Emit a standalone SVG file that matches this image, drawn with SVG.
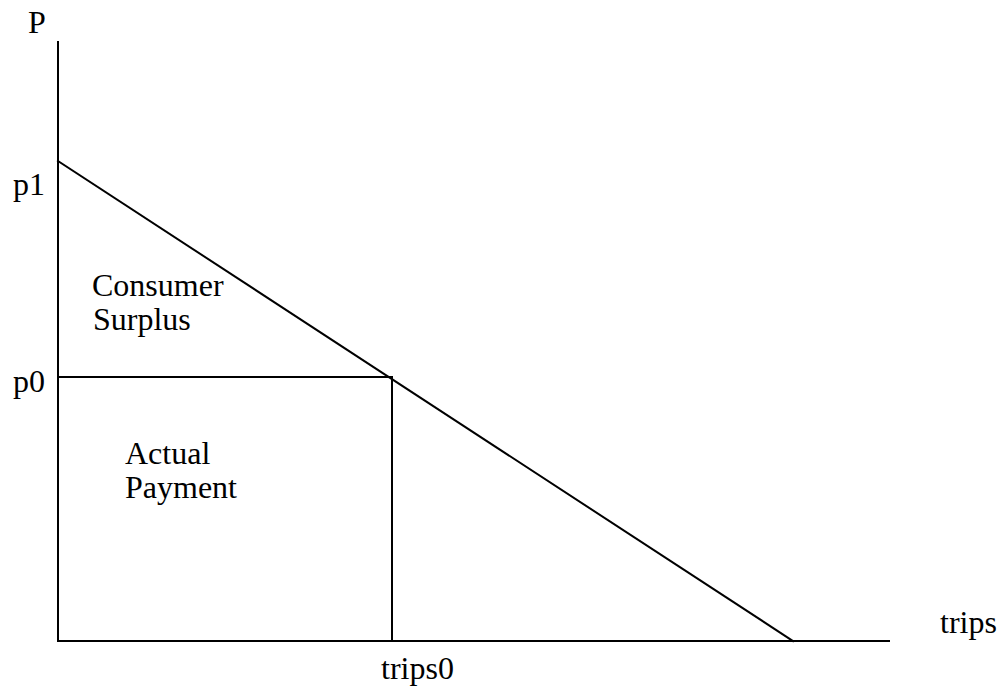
<svg xmlns="http://www.w3.org/2000/svg" width="1001" height="690" viewBox="0 0 1001 690">
<style>
.ln{stroke:#000;stroke-width:2;fill:none;stroke-linecap:square}
.t{font-family:"Liberation Serif","Times New Roman",serif;font-size:32px;fill:#000}
</style>
<rect width="1001" height="690" fill="#fff"/>
<g id="axes">
<line class="ln" x1="58" y1="42" x2="58" y2="641"/>
<line class="ln" x1="58" y1="641" x2="889" y2="641"/>
</g>
<g id="connectors">
<line class="ln" x1="58" y1="161" x2="793" y2="641"/>
<polyline class="ln" points="58,377 392,377 392,641"/>
</g>
<g id="labels">
<text class="t" x="28" y="33">P</text>
<text class="t" x="13" y="195">p1</text>
<text class="t" x="13" y="392">p0</text>
<text class="t" x="940" y="633">trips</text>
<text class="t" x="381" y="679">trips0</text>
</g>
<g id="consumer-surplus">
<text class="t" x="92" y="296">Consumer</text>
<text class="t" x="93" y="330">Surplus</text>
</g>
<g id="actual-payment">
<text class="t" x="125" y="464">Actual</text>
<text class="t" x="125" y="498">Payment</text>
</g>
</svg>
